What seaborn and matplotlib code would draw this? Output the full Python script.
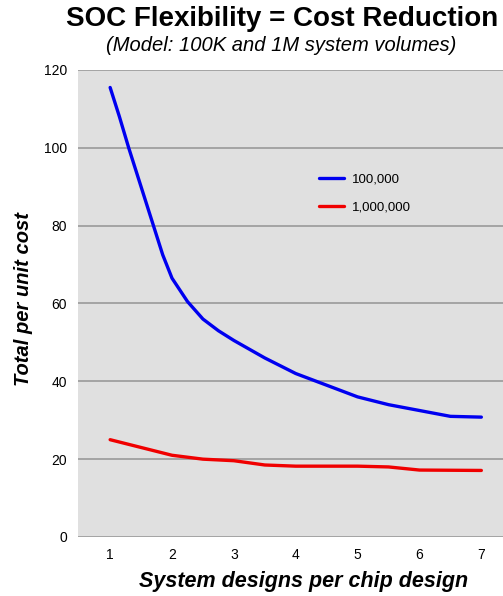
import matplotlib
matplotlib.use("Agg")
import matplotlib.pyplot as plt
import seaborn as sns
import pandas as pd

x_100k = [1.0, 1.15, 1.3, 1.5, 1.7, 1.85, 2.0, 2.25, 2.5, 2.75, 3.0, 3.5, 4.0, 4.5, 5.0, 5.5, 6.0, 6.5, 7.0]
y_100k = [115.5, 108, 100, 90, 80, 72.5, 66.5, 60.5, 56, 53, 50.5, 46, 42, 39, 36, 34, 32.5, 31, 30.8]
x_1m = [1.0, 1.5, 2.0, 2.5, 3.0, 3.5, 4.0, 5.0, 5.5, 6.0, 7.0]
y_1m = [25, 23, 21, 20, 19.6, 18.5, 18.2, 18.2, 18.0, 17.2, 17.1]
series_names = ["100,000", "1,000,000"]
x_ticks = [1, 2, 3, 4, 5, 6, 7]
y_ticks = [0, 20, 40, 60, 80, 100, 120]

df = pd.concat([
    pd.DataFrame({"x": x_100k, "y": y_100k, "series": series_names[0]}),
    pd.DataFrame({"x": x_1m, "y": y_1m, "series": series_names[1]}),
])

sns.set_style("white")
plt.rcParams["font.family"] = ["Liberation Sans", "DejaVu Sans"]
plt.rcParams["text.color"] = "black"
plt.rcParams["axes.labelcolor"] = "black"
plt.rcParams["xtick.color"] = "black"
plt.rcParams["ytick.color"] = "black"

fig = plt.figure(figsize=(5.03, 5.96), dpi=100)
ax = fig.add_axes([0.155, 0.099, 0.845, 0.7836])
ax.set_facecolor("#e0e0e0")

sns.lineplot(data=df, x="x", y="y", hue="series", palette=["#0000f0", "#f00000"],
             linewidth=2.4, ax=ax, sort=False)

ax.set_xlim(0.48, 7.35)
ax.set_ylim(0, 120)
ax.set_yticks(y_ticks)
ax.set_xticks(x_ticks)
ax.grid(axis="y", color="#9a9a9a", linewidth=1.2)
ax.set_axisbelow(True)
for s in ax.spines.values():
    s.set_visible(False)
ax.tick_params(axis="y", length=5, color="#9a9a9a", labelsize=10, pad=3)
ax.tick_params(axis="x", length=0, labelsize=10, pad=8)

ax.set_xlabel("System designs per chip design", fontsize=15.5, fontweight="bold",
              fontstyle="italic")
ax.xaxis.set_label_coords(0.53, -0.072)
ax.set_ylabel("Total per unit cost", fontsize=14.5, fontweight="bold",
              fontstyle="italic")
ax.yaxis.set_label_coords(-0.105, 0.51)

leg = ax.legend(loc="upper left", bbox_to_anchor=(0.54, 0.805), frameon=False,
                fontsize=9.5, handlelength=1.9, handletextpad=0.6, labelspacing=1.2, title=None)

fig.text(0.56, 0.968, "SOC Flexibility = Cost Reduction", ha="center", va="center",
         fontsize=20, fontweight="bold")
fig.text(0.56, 0.923, "(Model: 100K and 1M system volumes)", ha="center", va="center",
         fontsize=14.5, fontstyle="italic")

fig.savefig("out.png", dpi=100)
